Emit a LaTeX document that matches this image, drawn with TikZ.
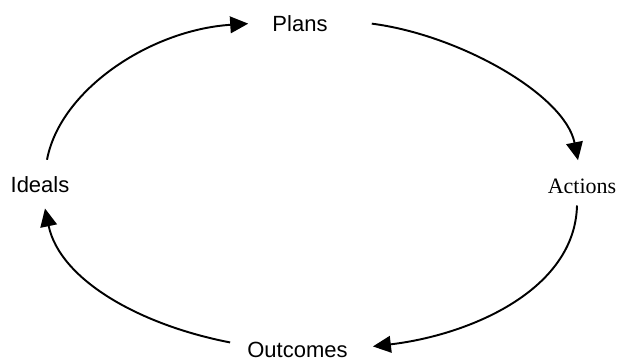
\documentclass[tikz,border=0pt]{standalone}
\usepackage{fontspec}
\setmainfont{Liberation Sans}
\newfontfamily\timesface{Liberation Serif}
\usetikzlibrary{arrows.meta}

\begin{document}
\begin{tikzpicture}[x=0.75pt,y=0.75pt,yscale=-1,xscale=1,
  lbl/.style={inner sep=0pt,anchor=base,font=\fontsize{16.5}{20}\selectfont},
  cycarrow/.style={line width=1.45pt,-{Triangle[length=13.5pt,width=12.5pt]}}]
\useasboundingbox (0,0) rectangle (620,362);

% Text Node
\node [lbl] (plans) at (300,31.5) {Plans};
% Text Node
\node [lbl,font=\fontsize{16.5}{20}\selectfont\timesface] (actions) at (582,193) {Actions};
% Text Node
\node [lbl] (outcomes) at (297.5,357) {Outcomes};
% Text Node
\node [lbl] (ideals) at (40,192) {Ideals};

%Curve: Ideals to Plans
\draw [cycarrow] ([shift={(7,-16)}]ideals.north) .. controls (60,90) and (150,30) .. ([shift={(-24,0)}]plans.west);
%Curve: Plans to Actions
\draw [cycarrow] ([shift={(44,0)}]plans.east) .. controls (460,35) and (565,95) .. ([shift={(-4,-18)}]actions.north);
%Curve: Actions to Outcomes
\draw [cycarrow] ([shift={(-5,12)}]actions.south) .. controls (575,290) and (470,335) .. ([shift={(25,-3)}]outcomes.east);
%Curve: Outcomes to Ideals
\draw [cycarrow] ([shift={(-17,-7)}]outcomes.west) .. controls (140,325) and (60,280) .. ([shift={(5,16)}]ideals.south);

\end{tikzpicture}
\end{document}
